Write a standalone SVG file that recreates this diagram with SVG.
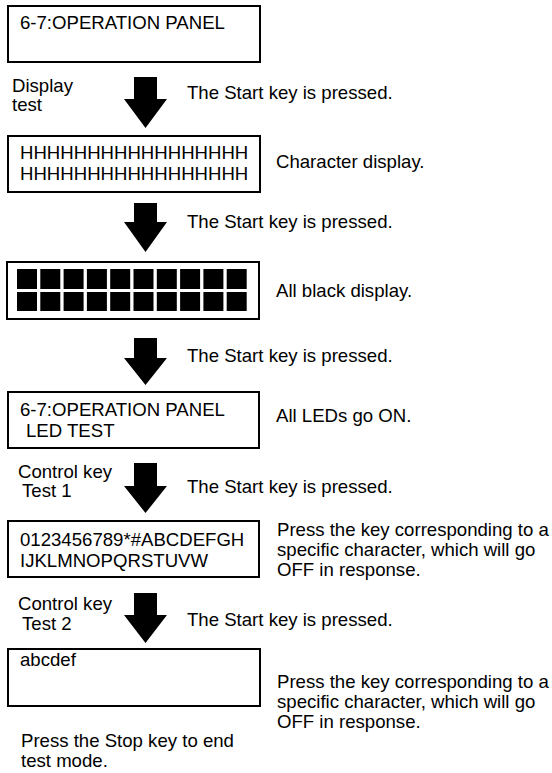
<svg xmlns="http://www.w3.org/2000/svg" width="552" height="773" viewBox="0 0 552 773">
<style>
text{font-family:"Liberation Sans",Arial,sans-serif;font-size:18.6px;fill:#000}
.box{fill:#fff;stroke:#000;stroke-width:2}
.arrow{fill:#000}
.sq{fill:#000}
</style>
<defs>
<path id="arr" class="arrow" d="M-11.5,0 H11.5 V22 H21.5 L0,51 L-21.5,22 H-11.5 Z"/>
</defs>
<rect width="552" height="773" fill="#fff"/>
<g id="connectors">
<path class="arrow" d="M134,77 H157 V99 H167 L145.5,128 L124,99 H134 Z"/>
<path class="arrow" d="M134,203 H157 V222 H167 L145.5,252 L124,222 H134 Z"/>
<path class="arrow" d="M134,338 H157 V358 H167 L145.5,385 L124,358 H134 Z"/>
<path class="arrow" d="M134,463 H157 V486 H167 L145.5,513 L124,486 H134 Z"/>
<path class="arrow" d="M134,593 H157 V615 H167 L145.5,643 L124,615 H134 Z"/>
<text x="187" y="99">The Start key is pressed.</text>
<text x="187" y="228">The Start key is pressed.</text>
<text x="187" y="362">The Start key is pressed.</text>
<text x="187" y="493">The Start key is pressed.</text>
<text x="187" y="626">The Start key is pressed.</text>
<text x="12" y="92">Display</text>
<text x="12" y="111">test</text>
<text x="18" y="478">Control key</text>
<text x="22" y="497">Test 1</text>
<text x="18" y="610">Control key</text>
<text x="22" y="630">Test 2</text>
</g>
<g id="node1">
<rect class="box" x="8" y="6" width="252" height="56"/>
<text x="20" y="29">6-7:OPERATION PANEL</text>
</g>
<g id="node2">
<rect class="box" x="8" y="136" width="252" height="56"/>
<text x="20" y="159">HHHHHHHHHHHHHHHHH</text>
<text x="20" y="180">HHHHHHHHHHHHHHHHH</text>
<text x="276" y="168">Character display.</text>
</g>
<g id="node3">
<rect class="box" x="7" y="262" width="252" height="57"/>
<g class="sq">
<rect x="17" y="269" width="20" height="20"/><rect x="40.3" y="269" width="20" height="20"/><rect x="63.6" y="269" width="20" height="20"/><rect x="86.9" y="269" width="20" height="20"/><rect x="110.2" y="269" width="20" height="20"/><rect x="133.5" y="269" width="20" height="20"/><rect x="156.8" y="269" width="20" height="20"/><rect x="180.1" y="269" width="20" height="20"/><rect x="203.4" y="269" width="20" height="20"/><rect x="226.7" y="269" width="20" height="20"/>
<rect x="17" y="292" width="20" height="19"/><rect x="40.3" y="292" width="20" height="19"/><rect x="63.6" y="292" width="20" height="19"/><rect x="86.9" y="292" width="20" height="19"/><rect x="110.2" y="292" width="20" height="19"/><rect x="133.5" y="292" width="20" height="19"/><rect x="156.8" y="292" width="20" height="19"/><rect x="180.1" y="292" width="20" height="19"/><rect x="203.4" y="292" width="20" height="19"/><rect x="226.7" y="292" width="20" height="19"/>
</g>
<text x="276" y="297">All black display.</text>
</g>
<g id="node4">
<rect class="box" x="8" y="392" width="251" height="56"/>
<text x="20" y="416">6-7:OPERATION PANEL</text>
<text x="26" y="437">LED TEST</text>
<text x="276" y="422">All LEDs go ON.</text>
</g>
<g id="node5">
<rect class="box" x="8" y="521" width="251" height="56"/>
<text x="20" y="546">0123456789*#ABCDEFGH</text>
<text x="20" y="567">IJKLMNOPQRSTUVW</text>
<text x="277" y="536">Press the key corresponding to a</text>
<text x="277" y="556">specific character, which will go</text>
<text x="277" y="576">OFF in response.</text>
</g>
<g id="node6">
<rect class="box" x="8" y="649" width="252" height="57"/>
<text x="20" y="666">abcdef</text>
<text x="277" y="688">Press the key corresponding to a</text>
<text x="277" y="708">specific character, which will go</text>
<text x="277" y="728">OFF in response.</text>
</g>
<g id="note">
<text x="21" y="747">Press the Stop key to end</text>
<text x="21" y="767">test mode.</text>
</g>
</svg>
